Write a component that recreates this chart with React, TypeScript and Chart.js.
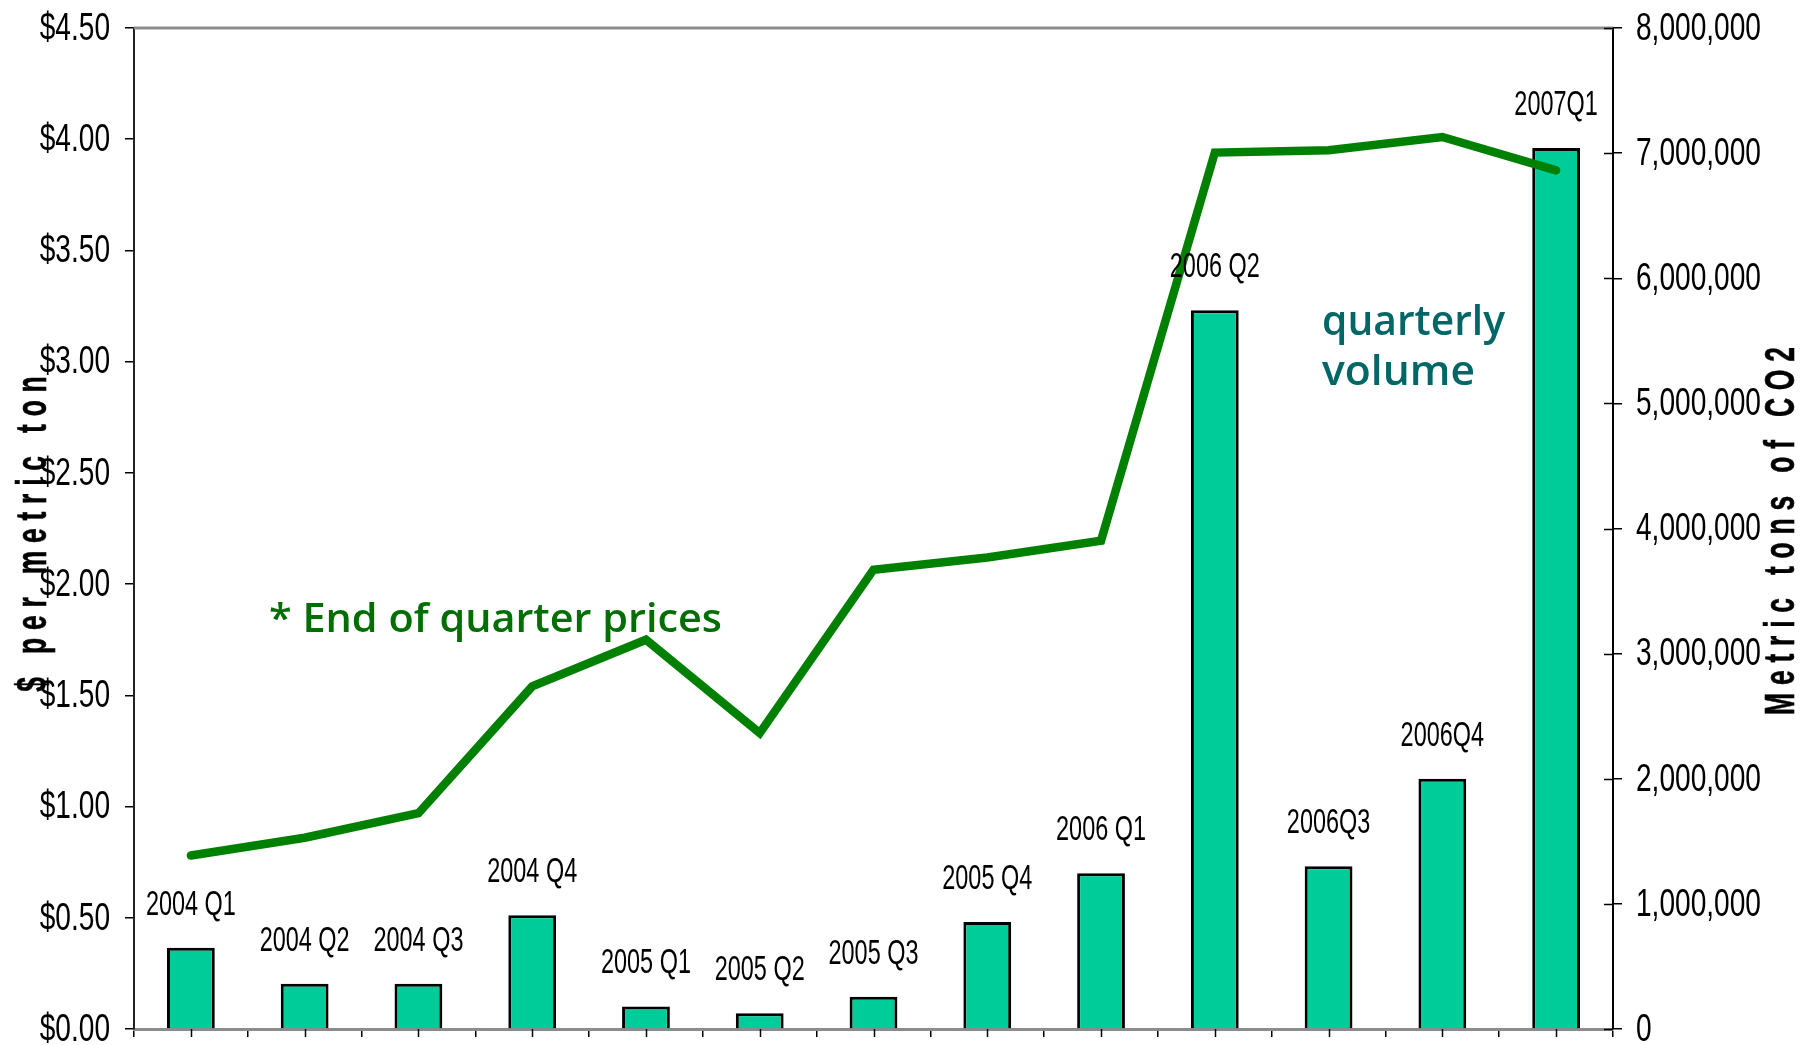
import React, { useEffect, useRef } from 'react';
import { Chart, registerables } from 'chart.js';

Chart.register(...registerables);

// ---------------- data ----------------
const categories = [
  '2004 Q1', '2004 Q2', '2004 Q3', '2004 Q4',
  '2005 Q1', '2005 Q2', '2005 Q3', '2005 Q4',
  '2006 Q1', '2006 Q2', '2006 Q3', '2006 Q4', '2007 Q1',
];
const barLabels = [
  '2004 Q1', '2004 Q2', '2004 Q3', '2004 Q4',
  '2005 Q1', '2005 Q2', '2005 Q3', '2005 Q4',
  '2006 Q1', '2006 Q2', '2006Q3', '2006Q4', '2007Q1',
];
// quarterly volume, metric tons of CO2 (right axis)
const volumes = [
  650000, 362000, 362000, 909000,
  180000, 125000, 258000, 855000,
  1245000, 5745000, 1300000, 2000000, 7040000,
];
// end of quarter prices, $ per metric ton (left axis)
const prices = [
  0.78, 0.86, 0.97, 1.54,
  1.75, 1.33, 2.065, 2.12,
  2.195, 3.94, 3.95, 4.01, 3.86,
];
const priceMin = 0;
const priceMax = 4.5;
const priceStep = 0.5;
const volumeMin = 0;
const volumeMax = 8000000;
const volumeStep = 1000000;

const leftTitle = '$ per metric ton';
const rightTitle = 'Metric tons of CO2';
const priceNote = '* End of quarter prices';
const volumeNote = ['quarterly', 'volume'];

// ---------------- styles ----------------
const ARIAL = "'Liberation Sans', Arial, sans-serif";
const NOTE_FONT = "'Open Sans', 'DejaVu Sans', sans-serif";
const TICK_FONT = `39px ${ARIAL}`;
const TICK_SX = 0.72;

const priceLabel = (v: number) => '$' + v.toFixed(2);
const volumeLabel = (v: number) => v.toLocaleString('en-US');

function drawFitted(ctx: CanvasRenderingContext2D, text: string, x: number, y: number, font: string, color: string, width: number) {
  ctx.save();
  ctx.font = font;
  ctx.fillStyle = color;
  ctx.textAlign = 'left';
  ctx.textBaseline = 'alphabetic';
  const w = ctx.measureText(text).width;
  ctx.translate(x, y);
  ctx.scale(width / w, 1);
  ctx.fillText(text, 0, 0);
  ctx.restore();
}

function drawSqueezed(ctx: CanvasRenderingContext2D, text: string, x: number, y: number, sx: number, align: CanvasTextAlign) {
  ctx.save();
  ctx.translate(x, y);
  ctx.scale(sx, 1);
  ctx.textAlign = align;
  ctx.fillText(text, 0, 0);
  ctx.restore();
}

function drawSpacedRotated(ctx: CanvasRenderingContext2D, text: string, cx: number, cy: number, font: string, sx: number, gap: number) {
  ctx.save();
  ctx.font = font;
  ctx.fillStyle = '#000';
  ctx.strokeStyle = '#000';
  ctx.lineWidth = 0.6;
  ctx.translate(cx, cy);
  ctx.rotate(-Math.PI / 2);
  ctx.textAlign = 'left';
  ctx.textBaseline = 'middle';
  const chars = Array.from(text);
  const widths = chars.map((c) => ctx.measureText(c).width * sx);
  const total = widths.reduce((a, b) => a + b, 0) + gap * (chars.length - 1);
  let x = -total / 2;
  chars.forEach((c, i) => {
    ctx.save();
    ctx.translate(x, 0);
    ctx.scale(sx, 1);
    ctx.fillText(c, 0, 0);
    ctx.strokeText(c, 0, 0);
    ctx.restore();
    x += widths[i] + gap;
  });
  ctx.restore();
}

const extrasPlugin = {
  id: 'extras',
  afterDraw(chart: any) {
    const { ctx, chartArea: ca, scales } = chart;
    ctx.save();
    // top frame line
    ctx.strokeStyle = '#8c8c8c';
    ctx.lineWidth = 3;
    ctx.beginPath();
    ctx.moveTo(ca.left, ca.top);
    ctx.lineTo(ca.right, ca.top);
    ctx.stroke();

    // right axis ticks crossing into the plot
    ctx.strokeStyle = '#000';
    ctx.lineWidth = 1.5;
    scales.y1.ticks.forEach((_t: any, i: number) => {
      const y = Math.round(scales.y1.getPixelForTick(i)) + 0.5;
      ctx.beginPath();
      ctx.moveTo(ca.right - 9, y);
      ctx.lineTo(ca.right, y);
      ctx.stroke();
    });
    // category centre ticks
    categories.forEach((_c, i) => {
      const x = Math.round(scales.x.getPixelForValue(i)) + 0.5;
      ctx.beginPath();
      ctx.moveTo(x, ca.bottom);
      ctx.lineTo(x, ca.bottom + 8);
      ctx.stroke();
    });

    // tick labels (condensed)
    ctx.font = TICK_FONT;
    ctx.fillStyle = '#000';
    ctx.textBaseline = 'middle';
    scales.y.ticks.forEach((t: any, i: number) => {
      const y = scales.y.getPixelForTick(i);
      drawSqueezed(ctx, priceLabel(t.value), ca.left - 24, y + 1, TICK_SX, 'right');
    });
    scales.y1.ticks.forEach((t: any, i: number) => {
      const y = scales.y1.getPixelForTick(i);
      drawSqueezed(ctx, volumeLabel(t.value), ca.right + 23, y + 1, TICK_SX, 'left');
    });

    // labels above bars
    const meta = chart.getDatasetMeta(1);
    ctx.font = `35px ${ARIAL}`;
    const sx = 90 / ctx.measureText('2004 Q1').width;
    ctx.textBaseline = 'alphabetic';
    meta.data.forEach((el: any, i: number) => {
      drawSqueezed(ctx, barLabels[i], el.x, el.y - 33, sx, 'center');
    });

    // axis titles
    drawSpacedRotated(ctx, leftTitle, 34, 534, `bold 42px ${ARIAL}`, 0.63, 7.8);
    drawSpacedRotated(ctx, rightTitle, 1782, 531, `bold 42px ${ARIAL}`, 0.63, 7.8);

    // notes
    drawFitted(ctx, priceNote, 269, 632, `600 40px ${NOTE_FONT}`, '#006e00', 453);
    drawFitted(ctx, volumeNote[0], 1322, 335, `600 42px ${NOTE_FONT}`, '#006666', 183);
    drawFitted(ctx, volumeNote[1], 1322, 385, `600 42px ${NOTE_FONT}`, '#006666', 153);
    ctx.restore();
  },
};

export default function App() {
  const ref = useRef<HTMLCanvasElement>(null);
  useEffect(() => {
    const canvas = ref.current;
    if (!canvas) return;
    const chart = new Chart(canvas, {
      type: 'bar',
      data: {
        labels: categories,
        datasets: [
          {
            type: 'line',
            label: 'Price',
            data: prices,
            yAxisID: 'y',
            borderColor: '#008000',
            backgroundColor: '#008000',
            borderWidth: 8.5,
            pointRadius: 0,
            tension: 0,
            borderCapStyle: 'round',
            borderJoinStyle: 'miter',
            order: 0,
          } as any,
          {
            type: 'bar',
            label: 'Volume',
            data: volumes,
            yAxisID: 'y1',
            backgroundColor: '#00CC99',
            borderColor: '#000',
            borderWidth: 3,
            barPercentage: 0.42,
            categoryPercentage: 1,
            order: 1,
          } as any,
        ],
      },
      options: {
        responsive: false,
        animation: false,
        devicePixelRatio: 1,
        layout: { padding: { top: 28, left: 0, right: 0, bottom: 0 } },
        plugins: {
          legend: { display: false },
          tooltip: { enabled: false },
        },
        scales: {
          x: {
            offset: true,
            grid: {
              display: true,
              drawOnChartArea: false,
              offset: true,
              drawTicks: true,
              tickLength: 8,
              color: '#000',
              lineWidth: 1.5,
            },
            border: { display: true, color: '#8c8c8c', width: 3 },
            ticks: { display: false },
            afterFit: (s: any) => { s.height = 16; },
          },
          y: {
            position: 'left',
            min: priceMin,
            max: priceMax,
            grid: { drawOnChartArea: false, drawTicks: true, tickLength: 9, color: '#000', lineWidth: 1.5 },
            border: { display: true, color: '#222', width: 2 },
            ticks: { display: false, stepSize: priceStep },
            afterFit: (s: any) => { s.width = 134; },
          },
          y1: {
            position: 'right',
            min: volumeMin,
            max: volumeMax,
            grid: { drawOnChartArea: false, drawTicks: true, tickLength: 9, color: '#000', lineWidth: 1.5 },
            border: { display: true, color: '#000', width: 2 },
            ticks: { display: false, stepSize: volumeStep },
            afterFit: (s: any) => { s.width = 203; },
          },
        },
      } as any,
      plugins: [extrasPlugin],
    });
    return () => chart.destroy();
  }, []);

  return (
    <div style={{ position: 'absolute', left: 0, top: 0, width: 1816, height: 1045, background: '#fff' }}>
      <canvas ref={ref} width={1816} height={1045} style={{ width: 1816, height: 1045, display: 'block' }} />
    </div>
  );
}
